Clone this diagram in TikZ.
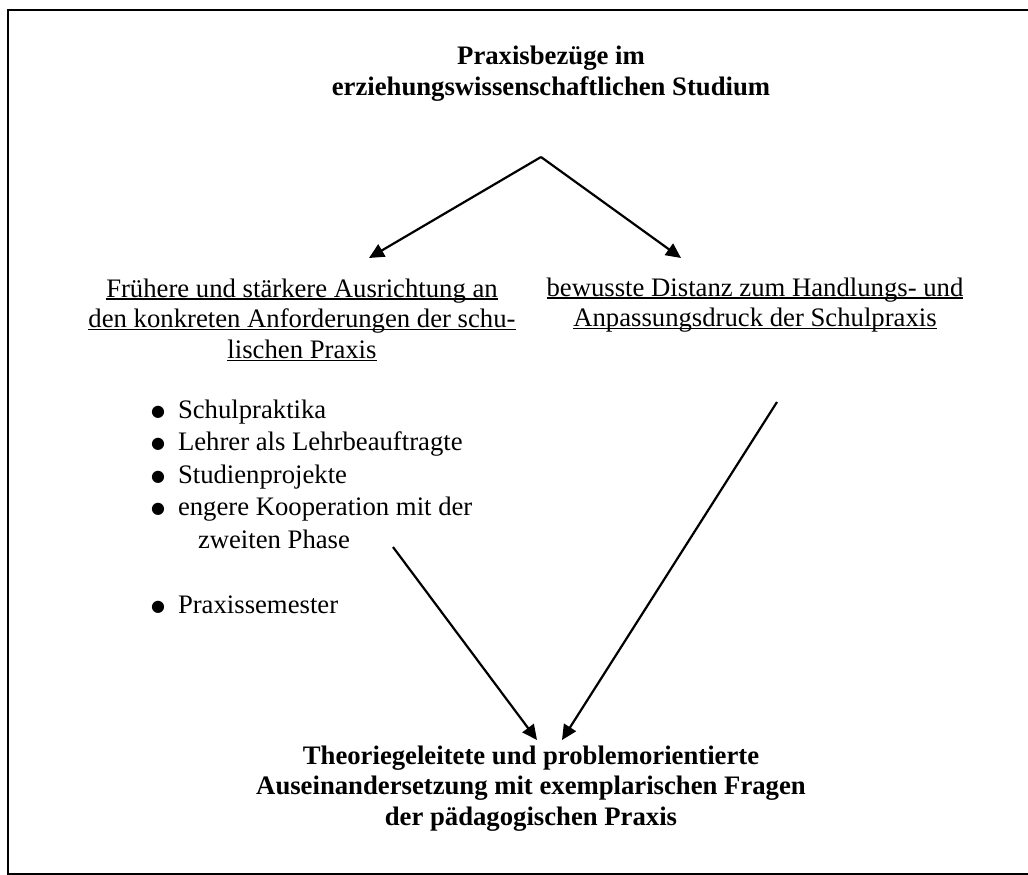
\documentclass[tikz,border=0pt]{standalone}
\usepackage{fontspec}
\setmainfont{Liberation Serif}
\newfontfamily\symfont{DejaVu Sans}
\usetikzlibrary{arrows.meta}
\newcommand\ulline[1]{\setbox0\hbox{#1}\rlap{\rule[-2.6pt]{\wd0}{1.2pt}}\box0}
\newcommand\bul{\makebox[28pt][l]{\hspace*{1pt}\raisebox{2pt}{\symfont\fontsize{16}{16}\selectfont ●}}}
\tikzset{
  txt/.style={inner sep=0pt, outer sep=0pt, anchor=base, font=\fontsize{26.7}{30.6}\selectfont},
  conn/.style={line width=2.2pt, -{Triangle[length=15pt,width=14pt]}},
  frame/.style={line width=2pt}
}
\begin{document}
\begin{tikzpicture}[x=1pt,y=-1pt]
\useasboundingbox (0,0) rectangle (1028,875);
\draw[frame] (1040,10.5) -- (8,10.5) -- (8,873.5) -- (1040,873.5);

\node[txt] (title) at (551,65) {\bfseries\begin{tabular}[t]{@{}c@{}}Praxisbezüge im\\ erziehungswissenschaftlichen Studium\end{tabular}};

\node[txt] (left) at (302,297) {\begin{tabular}[t]{@{}c@{}}\ulline{Frühere und stärkere Ausrichtung an}\\ \ulline{den konkreten Anforderungen der schu-}\\ \ulline{lischen Praxis}\end{tabular}};

\node[txt] (right) at (755,296) {\begin{tabular}[t]{@{}c@{}}\ulline{bewusste Distanz zum Handlungs- und}\\ \ulline{Anpassungsdruck der Schulpraxis}\end{tabular}};

\node[txt, anchor=base west, font=\fontsize{26.7}{32.5}\selectfont] (list) at (150,418) {\begin{tabular}[t]{@{}l@{}}
\bul Schulpraktika\\
\bul Lehrer als Lehrbeauftragte\\
\bul Studienprojekte\\
\bul engere Kooperation mit der\\
\hspace*{48pt}zweiten Phase\\
\mbox{}\\
\bul Praxissemester
\end{tabular}};

\node[txt] (bottom) at (531,764) {\bfseries\begin{tabular}[t]{@{}c@{}}Theoriegeleitete und problemorientierte\\ Auseinandersetzung mit exemplarischen Fragen\\ der pädagogischen Praxis\end{tabular}};

\coordinate (apex) at (541,157);
\coordinate (leftin) at (369,258);
\coordinate (rightin) at (681,258);
\coordinate (listout) at (393,547);
\coordinate (rightout) at (777,402);
\coordinate (botinL) at (537,740);
\coordinate (botinR) at (562,740);

\draw[conn] (apex) -- (leftin);
\draw[conn] (apex) -- (rightin);
\draw[conn] (listout) -- (botinL);
\draw[conn] (rightout) -- (botinR);
\end{tikzpicture}
\end{document}
